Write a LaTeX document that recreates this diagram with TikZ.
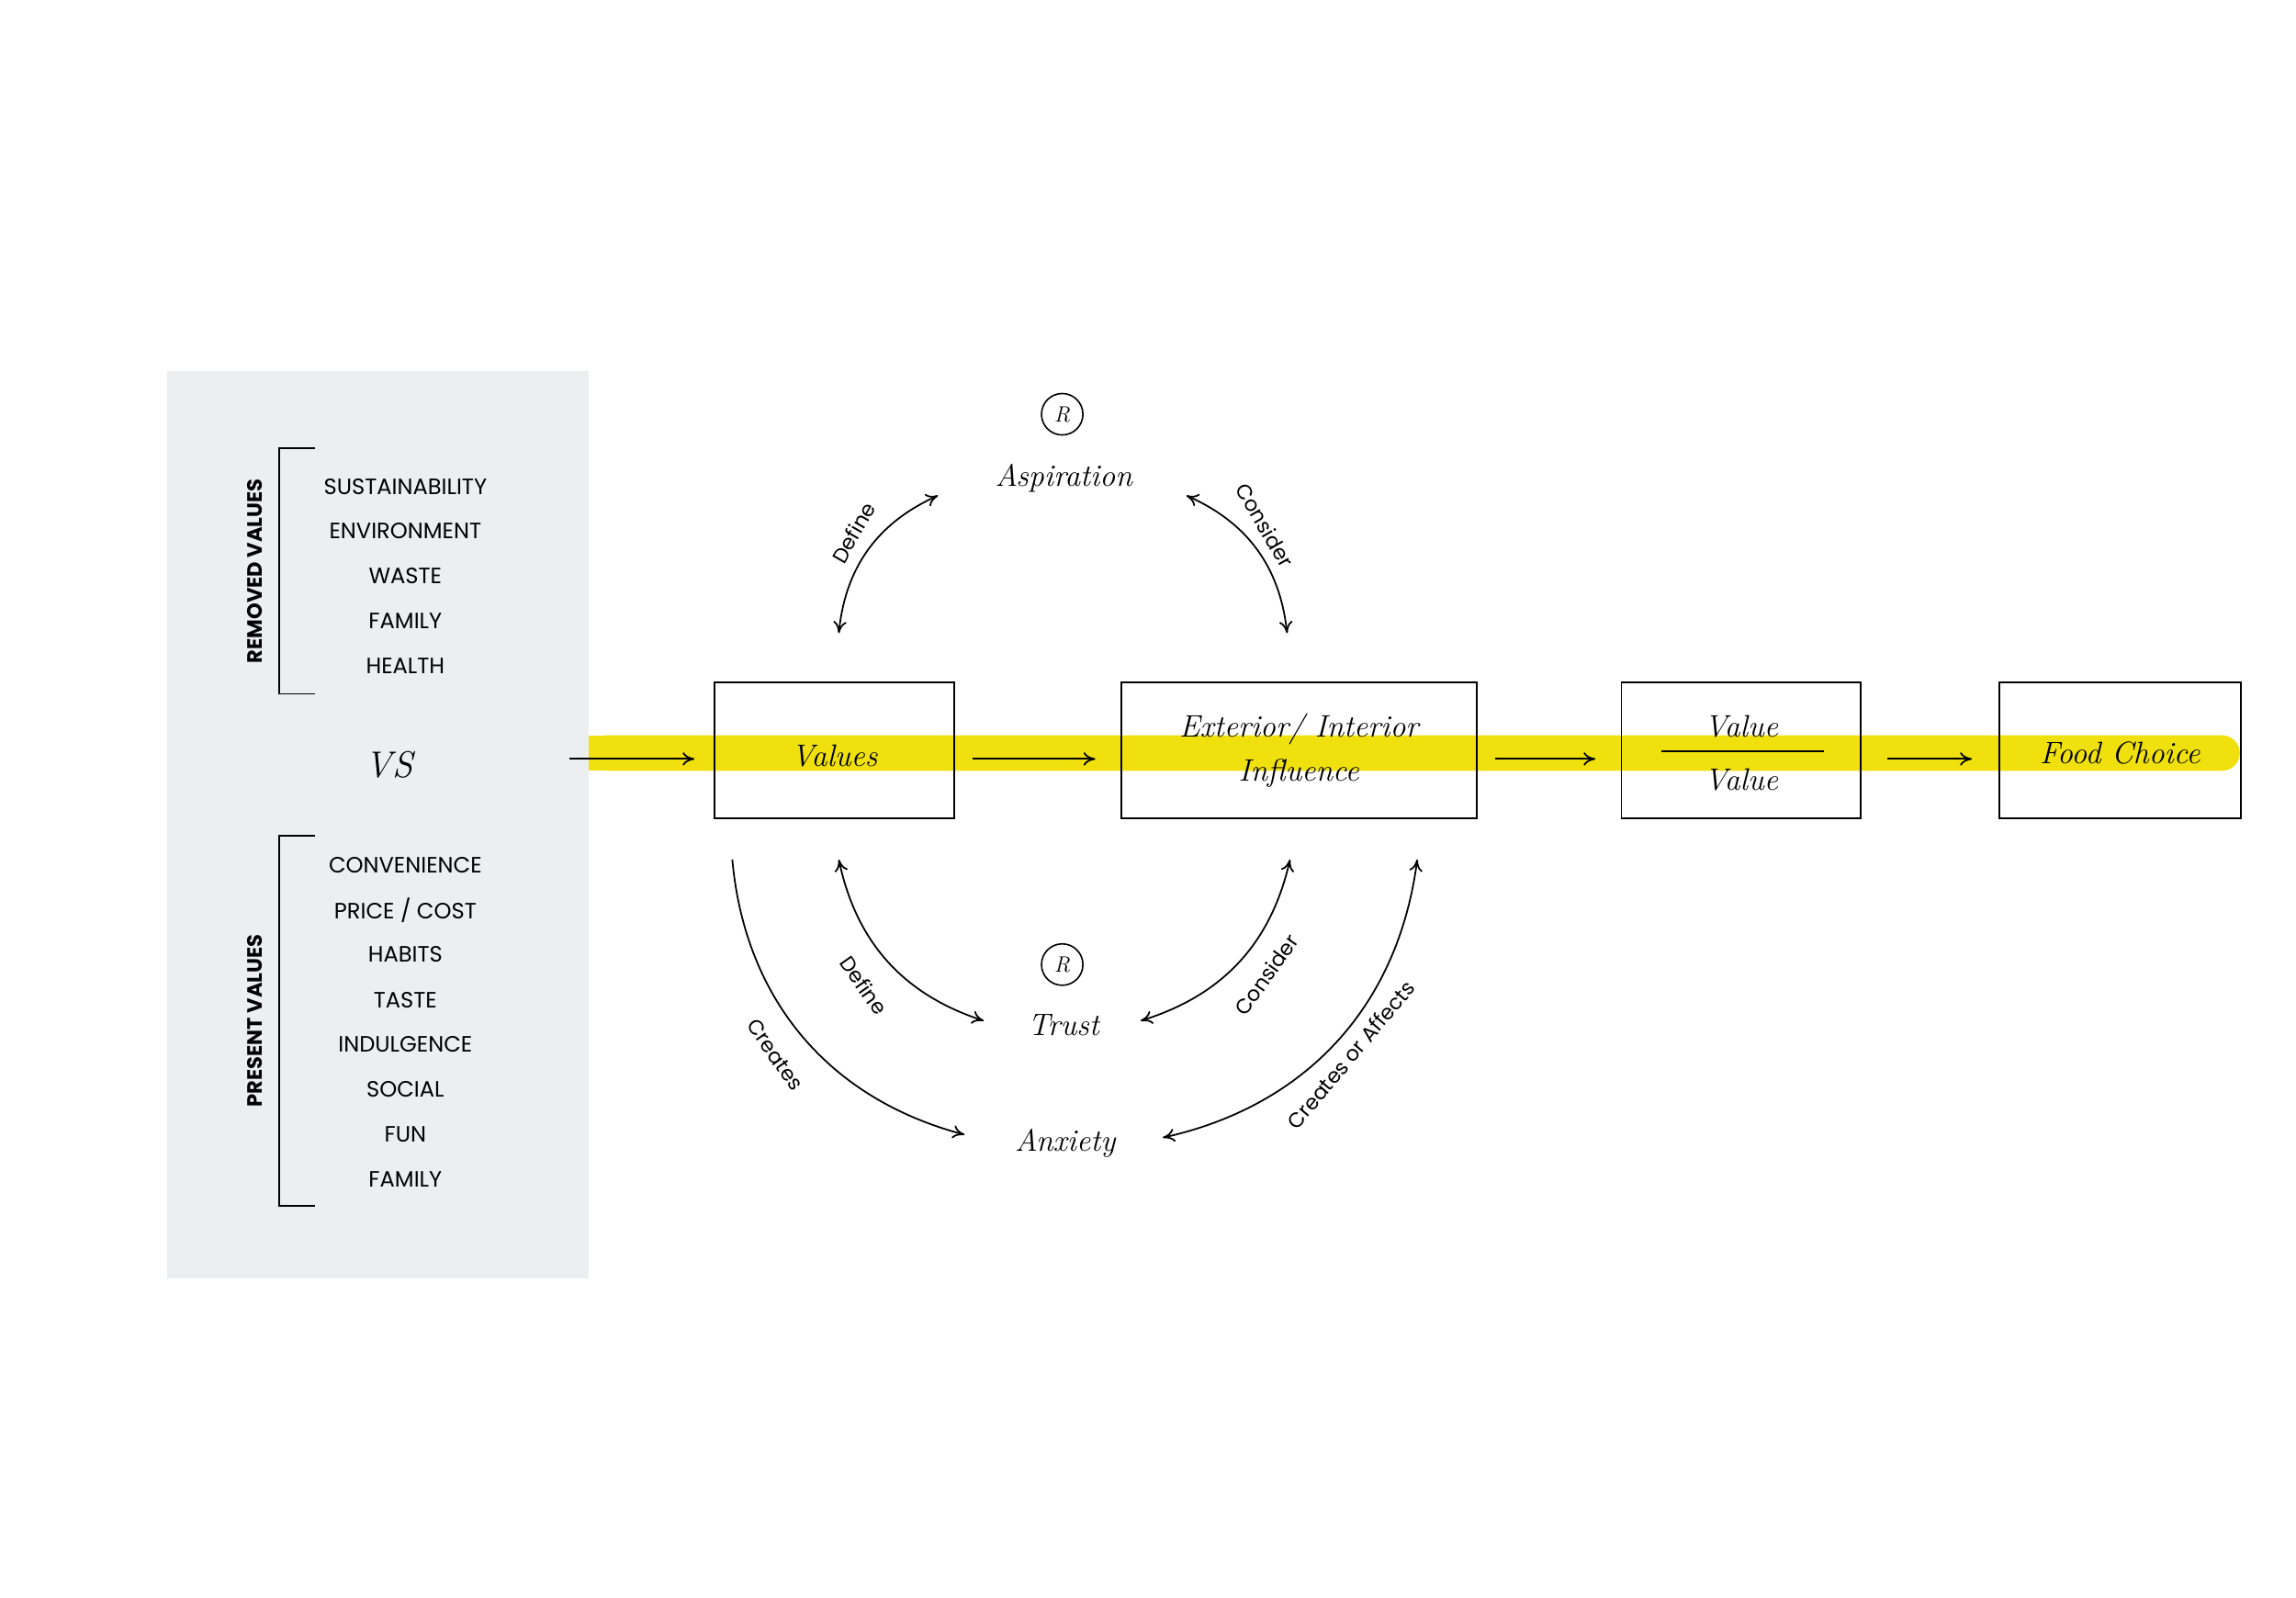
\documentclass[tikz,border=0pt]{standalone}
\usepackage{fontspec}
\newfontfamily\pop{Poppins}
\usetikzlibrary{arrows.meta}
\definecolor{panel}{HTML}{EDEEF0}
\definecolor{hl}{HTML}{F0E10E}
\tikzset{
 captxt/.style={font=\pop\fontsize{15}{15}\selectfont, inner sep=0pt},
 side/.style={font=\pop\bfseries\fontsize{14}{14}\selectfont, rotate=90, inner sep=0pt},
 it/.style={font=\itshape\fontsize{21}{21}\selectfont, inner sep=0pt},
 box/.style={draw, line width=1.2pt},
 arr/.style={line width=1.1pt, -{To[length=8pt,width=9pt]}},
 darr/.style={line width=1.1pt, {To[length=8pt,width=9pt]}-{To[length=8pt,width=9pt]}},
 lbl/.style={font=\pop\fontsize{14}{14}\selectfont, inner sep=0pt},
 brk/.style={line width=1.2pt},
}
\begin{document}
\begin{tikzpicture}[x=1pt,y=1pt]
\useasboundingbox (0,0) rectangle (1552,-1080);
\fill[panel] (113,-251) rectangle (398,-864);
\fill[hl, rounded corners=12pt] (398,-497) rectangle (1514,-521);
\fill[hl] (398,-497) rectangle (1400,-521);
% brackets
\draw[brk] (213,-303) -- (189,-303) -- (189,-469) -- (213,-469);
\draw[brk] (213,-565) -- (189,-565) -- (189,-815) -- (213,-815);
\node[side] (rv) at (172,-386) {REMOVED VALUES};
\node[side] (pv) at (172,-690) {PRESENT VALUES};
\node[captxt] (r1) at (274,-329) {SUSTAINABILITY};
\node[captxt] (r2) at (274,-359) {ENVIRONMENT};
\node[captxt] (r3) at (274,-389) {WASTE};
\node[captxt] (r4) at (274,-420) {FAMILY};
\node[captxt] (r5) at (274,-450) {HEALTH};
\node[captxt] (p1) at (274,-585) {CONVENIENCE};
\node[captxt] (p2) at (274,-615) {PRICE / COST};
\node[captxt] (p3) at (274,-645) {HABITS};
\node[captxt] (p4) at (274,-676) {TASTE};
\node[captxt] (p5) at (274,-706) {INDULGENCE};
\node[captxt] (p6) at (274,-736) {SOCIAL};
\node[captxt] (p7) at (274,-767) {FUN};
\node[captxt] (p8) at (274,-797) {FAMILY};
\node[it, font=\itshape\fontsize{25}{25}\selectfont] (vs) at (263,-517) {VS};
% boxes
\node[box, minimum width=162pt, minimum height=92pt] (values) at (564,-507) {};
\node[it] at (564,-511) {Values};
\node[box, minimum width=240pt, minimum height=92pt] (ext) at (878,-507) {};
\node[it] (ext1) at (878,-493) {Exterior/ Interior};
\node[it] (ext2) at (878,-523) {Influence};
\node[box, minimum width=162pt, minimum height=92pt] (vv) at (1177,-507) {};
\node[it] (v1) at (1177,-491) {Value};
\node[it] (v2) at (1177,-527) {Value};
\draw[line width=1.1pt] (1123,-508) -- (1233,-508);
\node[box, minimum width=163pt, minimum height=92pt] (food) at (1433,-507) {};
\node[it] at (1433,-509) {Food Choice};
% straight arrows
\coordinate (s0) at (385,-513);
\draw[arr] (s0) -- ([yshift=-6pt,xshift=-13pt]values.west);
\draw[arr] ([yshift=-6pt,xshift=12pt]values.east) -- ([yshift=-6pt,xshift=-17pt]ext.west);
\draw[arr] ([yshift=-6pt,xshift=12pt]ext.east) -- ([yshift=-6pt,xshift=-17pt]vv.west);
\draw[arr] ([yshift=-6pt,xshift=17pt]vv.east) -- ([yshift=-6pt,xshift=-18pt]food.west);
% cycle nodes
\node[draw, circle, line width=1pt, minimum size=28pt, inner sep=0pt, font=\itshape\fontsize{15}{15}\selectfont] (R1) at (718,-280) {R};
\node[it] (asp) at (719,-323) {Aspiration};
\node[draw, circle, line width=1pt, minimum size=28pt, inner sep=0pt, font=\itshape\fontsize{15}{15}\selectfont] (R2) at (718,-652) {R};
\node[it] (trust) at (719,-693) {Trust};
\node[it] (anx) at (720,-773) {Anxiety};
\coordinate (a1) at (567,-428); \coordinate (a2) at (634,-335);
\coordinate (b1) at (802,-335); \coordinate (b2) at (870,-428);
\coordinate (c1) at (567,-581); \coordinate (c2) at (665,-690);
\coordinate (d1) at (872,-581); \coordinate (d2) at (771,-690);
\coordinate (e1) at (495,-581); \coordinate (e2) at (652,-767);
\coordinate (f1) at (958,-581); \coordinate (f2) at (786,-769);
\draw[darr] (a1) to[bend left=30] (a2);
\draw[darr] (b1) to[bend left=30] (b2);
\draw[darr] (c1) to[bend right=30] (c2);
\draw[darr] (d1) to[bend left=30] (d2);
\draw[arr] (e1) to[bend right=35] (e2);
\draw[darr] (f1) to[bend left=35] (f2);
\node[lbl, rotate=60] (l1) at (577,-360) {Define};
\node[lbl, rotate=-60] (l2) at (855,-355) {Consider};
\node[lbl, rotate=-55] (l3) at (584,-666) {Define};
\node[lbl, rotate=55] (l4) at (856,-659) {Consider};
\node[lbl, rotate=-55] (l5) at (524,-713) {Creates};
\node[lbl, rotate=50] (l6) at (913,-713) {Creates or Affects};
\end{tikzpicture}
\end{document}
